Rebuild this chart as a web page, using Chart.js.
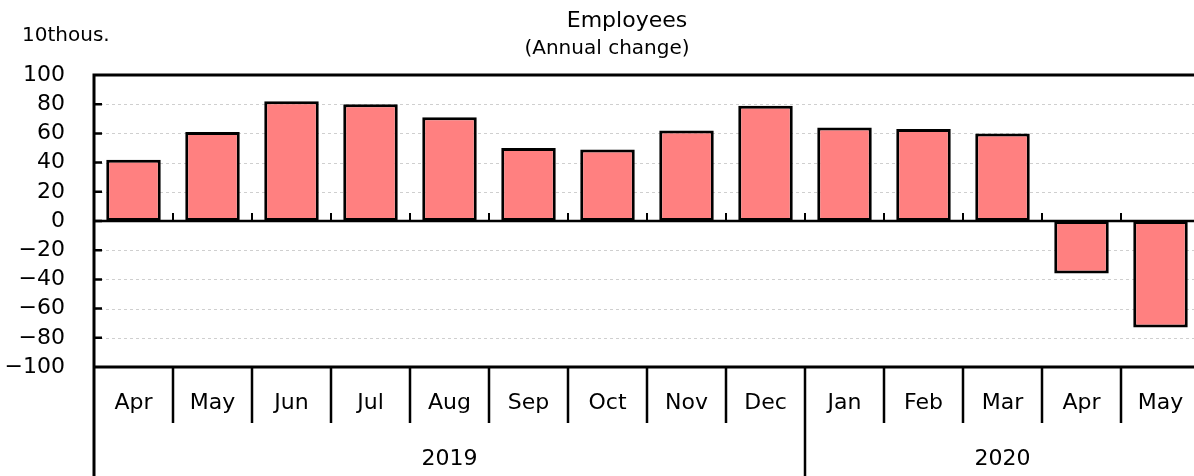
<!DOCTYPE html>
<html>
<head>
<meta charset="utf-8">
<script src="https://cdn.jsdelivr.net/npm/chart.js@4/dist/chart.umd.min.js"></script>
<style>
  html, body { margin: 0; padding: 0; background: #fff; overflow: hidden; }
  #wrap { width: 1200px; height: 476px; position: relative; }
</style>
</head>
<body>
<div id="wrap"><canvas id="empChart"></canvas></div>
<script>
// data
var months = ["Apr", "May", "Jun", "Jul", "Aug", "Sep", "Oct", "Nov", "Dec", "Jan", "Feb", "Mar", "Apr", "May"];
var years = ["2019", "2020"];
var yearSpan = [9, 5];   // months per year
var change = [42, 61, 82, 80, 71, 50, 49, 62, 79, 64, 63, 60, -36, -73];

var titleText = "Employees";
var subTitleText = "(Annual change)";
var unitText = "10thous.";

var FONT = "DejaVu Sans";

// draws the title, gridlines, axis ticks and the two-row category table
var decor = {
  id: "decor",
  beforeDatasetsDraw: function (chart) {
    var ctx = chart.ctx, a = chart.chartArea, y = chart.scales.y;
    ctx.save();
    ctx.strokeStyle = "#cfcfcf";
    ctx.lineWidth = 1;
    ctx.setLineDash([3, 3]);
    for (var v = -80; v <= 80; v += 20) {
      if (v === 0) continue;
      var py = Math.round(y.getPixelForValue(v)) + 0.5;
      ctx.beginPath();
      ctx.moveTo(a.left, py);
      ctx.lineTo(a.right, py);
      ctx.stroke();
    }
    ctx.restore();
  },
  afterDatasetsDraw: function (chart) {
    var ctx = chart.ctx, a = chart.chartArea, x = chart.scales.x, y = chart.scales.y;
    var h = chart.height;
    var step = (a.right - a.left) / months.length;
    var zero = y.getPixelForValue(0);
    ctx.save();
    ctx.strokeStyle = "#000";
    ctx.setLineDash([]);

    // frame: top, bottom, left axis down to the table bottom
    ctx.lineWidth = 3;
    ctx.beginPath();
    ctx.moveTo(a.left, a.top); ctx.lineTo(a.right, a.top);
    ctx.moveTo(a.left, a.bottom); ctx.lineTo(a.right, a.bottom);
    ctx.moveTo(a.left, a.top - 1.5); ctx.lineTo(a.left, h);
    ctx.stroke();
    // zero line
    ctx.lineWidth = 2.5;
    ctx.beginPath();
    ctx.moveTo(a.left, zero); ctx.lineTo(a.right, zero);
    ctx.stroke();

    // inward ticks on y axis
    ctx.lineWidth = 2.5;
    ctx.beginPath();
    for (var v = -80; v <= 80; v += 20) {
      var py = y.getPixelForValue(v);
      ctx.moveTo(a.left, py); ctx.lineTo(a.left + 8, py);
    }
    ctx.stroke();
    // small ticks on zero line between categories
    ctx.lineWidth = 2;
    ctx.beginPath();
    for (var i = 1; i < months.length; i++) {
      var bx = a.left + i * step;
      ctx.moveTo(bx, zero); ctx.lineTo(bx, zero - 8);
    }
    ctx.stroke();

    // month separators and year separators
    var rowMid = a.bottom + 56;
    ctx.lineWidth = 2.5;
    ctx.beginPath();
    var cum = 0, yearEdges = [];
    for (var k = 0; k < yearSpan.length; k++) { cum += yearSpan[k]; yearEdges.push(cum); }
    for (var j = 1; j <= months.length; j++) {
      var sx = a.left + j * step;
      ctx.moveTo(sx, a.bottom);
      ctx.lineTo(sx, yearEdges.indexOf(j) >= 0 ? h : rowMid);
    }
    ctx.stroke();

    ctx.fillStyle = "#000";
    ctx.textAlign = "center";
    ctx.textBaseline = "middle";
    ctx.font = "22px '" + FONT + "'";
    for (var m = 0; m < months.length; m++) {
      ctx.fillText(months[m], x.getPixelForValue(m), a.bottom + 36);
    }
    var start = 0;
    for (var n = 0; n < years.length; n++) {
      var x0 = a.left + start * step, x1 = a.left + (start + yearSpan[n]) * step;
      ctx.fillText(years[n], (x0 + x1) / 2, a.bottom + 92);
      start += yearSpan[n];
    }

    // titles
    ctx.fillText(titleText, 627, 21);
    ctx.font = "20px '" + FONT + "'";
    ctx.fillText(subTitleText, 607, 49);
    ctx.textAlign = "left";
    ctx.fillText(unitText, 22, 36);
    ctx.restore();
  }
};

var canvas = document.getElementById("empChart");
var empChart = new Chart(canvas, {
  type: "bar",
  data: {
    labels: months,
    datasets: [{
      data: change,
      backgroundColor: "#ff8080",
      borderColor: "#000",
      borderWidth: 3,
      borderSkipped: false,
      categoryPercentage: 1,
      barPercentage: 0.69
    }]
  },
  options: {
    responsive: true,
    maintainAspectRatio: false,
    animation: false,
    layout: { padding: { top: 75, bottom: 109, left: 0, right: 0 } },
    plugins: { legend: { display: false }, tooltip: { enabled: false }, title: { display: false } },
    scales: {
      x: { display: false, offset: true, grid: { display: false } },
      y: {
        min: -100, max: 100,
        afterFit: function (s) { s.width = 94; },
        grid: { display: false, drawTicks: false },
        border: { display: false },
        ticks: {
          stepSize: 20,
          autoSkip: false,
          padding: 29,
          color: "#000",
          font: { family: FONT, size: 22 },
          callback: function (v) { return v < 0 ? "\u2212" + Math.abs(v) : v; }
        }
      }
    }
  },
  plugins: [decor]
});
</script>
</body>
</html>
